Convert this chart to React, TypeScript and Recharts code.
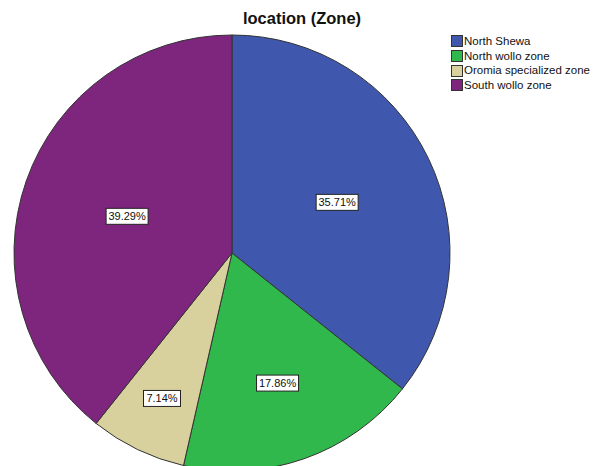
import React from "react";
import { PieChart, Pie, Cell, Legend } from "recharts";

const categories = ["North Shewa", "North wollo zone", "Oromia specialized zone", "South wollo zone"];
const percents = [35.71, 17.86, 7.14, 39.29];
const colors = ["#3F58AE", "#30B84C", "#D8D19D", "#7E267D"];
const title = "location (Zone)";

const data = categories.map((name, i) => ({ name, value: percents[i] }));

const FONT = "'Liberation Sans', Arial, sans-serif";
const RADIAN = Math.PI / 180;

const renderLabel = (props: any) => {
  const { cx, cy, midAngle, outerRadius, percent, value } = props;
  const half = Math.max(percent * Math.PI, 0.0001);
  let d = outerRadius * (2 / 3) * (Math.sin(half) / half);
  if (percent < 0.1) d *= 1.12;
  const x = cx + d * Math.cos(-midAngle * RADIAN);
  const y = cy + d * Math.sin(-midAngle * RADIAN);
  const txt = `${Number(value).toFixed(2)}%`;
  const w = txt.length > 5 ? 42 : 37;
  const h = 16;
  return (
    <g>
      <rect x={x - w / 2} y={y - h / 2} width={w} height={h} fill="#ffffff" stroke="#222" strokeWidth={1} />
      <text x={x} y={y + 4} textAnchor="middle" fontSize={11} fontFamily={FONT} fill="#111">
        {txt}
      </text>
    </g>
  );
};

const renderLegend = () => (
  <div style={{ fontFamily: FONT, fontSize: 11.5, color: "#111", lineHeight: "14.7px" }}>
    {categories.map((c, i) => (
      <div key={c} style={{ display: "flex", alignItems: "center", height: 14.7 }}>
        <span
          style={{
            display: "inline-block",
            width: 10,
            height: 10,
            background: colors[i],
            border: "1px solid #333",
            marginRight: 1,
          }}
        />
        <span>{c}</span>
      </div>
    ))}
  </div>
);

export default function App() {
  return (
    <div style={{ position: "absolute", left: 0, top: 0, width: 598, height: 466, background: "#fff", overflow: "hidden" }}>
      <div
        style={{
          position: "absolute",
          left: 0,
          width: 604,
          top: 8,
          textAlign: "center",
          fontFamily: FONT,
          fontWeight: "bold",
          fontSize: 16.5,
          color: "#111",
          lineHeight: "20px",
          zIndex: 2,
        }}
      >
        {title}
      </div>
      <PieChart width={598} height={466} margin={{ top: 0, right: 0, bottom: 0, left: 0 }}>
        <Pie
          data={data}
          dataKey="value"
          nameKey="name"
          cx={232}
          cy={253}
          outerRadius={218}
          startAngle={90}
          endAngle={-270}
          stroke="#333"
          strokeWidth={1}
          label={renderLabel}
          labelLine={false}
          isAnimationActive={false}
        >
          {data.map((d, i) => (
            <Cell key={d.name} fill={colors[i]} />
          ))}
        </Pie>
        <Legend
          layout="vertical"
          content={renderLegend}
          wrapperStyle={{ position: "absolute", left: 451, top: 34, width: 147 }}
        />
      </PieChart>
    </div>
  );
}
